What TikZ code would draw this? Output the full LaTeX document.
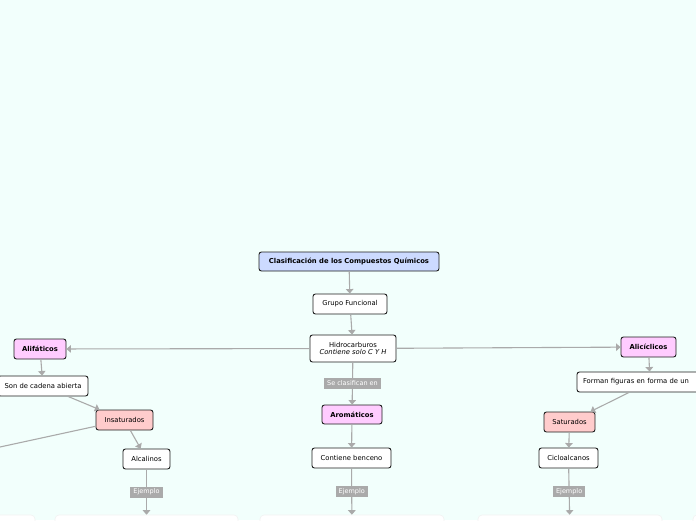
\documentclass[tikz,border=0pt]{standalone}
\usepackage{fontspec}
\setmainfont{DejaVu Sans}
\usetikzlibrary{arrows.meta}
\definecolor{bgc}{RGB}{242,255,252}
\definecolor{titlec}{RGB}{204,218,255}
\definecolor{pinkc}{RGB}{255,204,255}
\definecolor{salmonc}{RGB}{255,204,204}
\definecolor{linec}{RGB}{170,170,170}
\definecolor{borderc}{RGB}{30,30,30}
\tikzset{
  box/.style={draw=borderc, line width=0.9pt, rounded corners=2.5pt, fill=white,
    minimum height=20pt, inner sep=2pt, font=\fontsize{6.8}{8.5}\selectfont, align=center},
  boldbox/.style={box, font=\fontsize{6.8}{8.5}\selectfont\bfseries},
  lbl/.style={fill=linec, text=white, inner xsep=3pt, inner ysep=1.5pt, minimum height=11pt,
    font=\fontsize{6.5}{7}\selectfont},
  bottombox/.style={draw=white!85!linec, line width=0.6pt, rounded corners=4pt, fill=white,
    minimum height=40pt},
  conn/.style={draw=linec, line width=1.1pt, -{Triangle[width=7.5pt,length=4.5pt]}},
}
\begin{document}
\begin{tikzpicture}[x=1pt,y=-1pt]
\useasboundingbox (0,0) rectangle (696,520);
\fill[bgc] (0,0) rectangle (696,520);
\clip (0,0) rectangle (696,520);

% bottom boxes
\node[bottombox, minimum width=85pt] (b0) at (-7.5,535) {};
\node[bottombox, minimum width=183pt] (b1) at (146.5,535) {};
\node[bottombox, minimum width=184pt] (b2) at (352,535) {};
\node[bottombox, minimum width=184pt] (b3) at (570,535) {};
\node[bottombox, minimum width=87pt] (b4) at (736.5,535) {};

% nodes
\node[boldbox, fill=titlec, minimum width=180pt, minimum height=19pt] (title) at (349,261.5) {Clasificación de los Compuestos Químicos};
\node[box, minimum width=74pt] (grupo) at (350,304) {Grupo Funcional};
\node[box, minimum width=86pt, minimum height=27pt] (hidro) at (353,348.5) {Hidrocarburos\\[-1pt]{\itshape Contiene solo C Y H}};
\node[boldbox, fill=pinkc, minimum width=52pt] (alif) at (40,349) {Alifáticos};
\node[boldbox, fill=pinkc, minimum width=55pt] (alic) at (648.5,347) {Alicíclicos};
\node[box, minimum width=90pt] (son) at (43,386) {Son de cadena abierta};
\node[box, fill=salmonc, minimum width=57pt] (insat) at (124.5,420) {Insaturados};
\node[box, minimum width=47pt] (alcal) at (146.5,459) {Alcalinos};
\node[boldbox, fill=pinkc, minimum width=60pt, minimum height=19pt] (arom) at (352,414.5) {Aromáticos};
\node[box, minimum width=79pt] (conti) at (351.5,458) {Contiene benceno};
\node[box, minimum width=146pt, text width=134pt, align=left] (forman) at (650,382) {Forman figuras en forma de un};
\node[box, fill=salmonc, minimum width=51pt] (satur) at (569.5,422) {Saturados};
\node[box, minimum width=59pt] (ciclo) at (568.5,458) {Cicloalcanos};
\coordinate (offl) at (-60,460);

% connectors
\draw[conn] (title) -- (grupo);
\draw[conn] (grupo) -- (hidro);
\draw[conn] (hidro) -- (alif);
\draw[conn] (hidro) -- (alic);
\draw[conn] (hidro) -- node[lbl] (seclas) {Se clasifican en} (arom);
\draw[conn] (alif) -- (son);
\draw[conn] (son) -- (insat);
\draw[conn] (insat) -- (offl);
\draw[conn] (insat) -- (alcal);
\draw[conn] (alcal) -- node[lbl] (ej1) {Ejemplo} (b1);
\draw[conn] (arom) -- (conti);
\draw[conn] (conti) -- node[lbl] (ej2) {Ejemplo} (b2);
\draw[conn] (alic) -- (forman);
\draw[conn] (forman) -- (satur);
\draw[conn] (satur) -- (ciclo);
\draw[conn] (ciclo) -- node[lbl] (ej3) {Ejemplo} (b3);
\end{tikzpicture}
\end{document}
